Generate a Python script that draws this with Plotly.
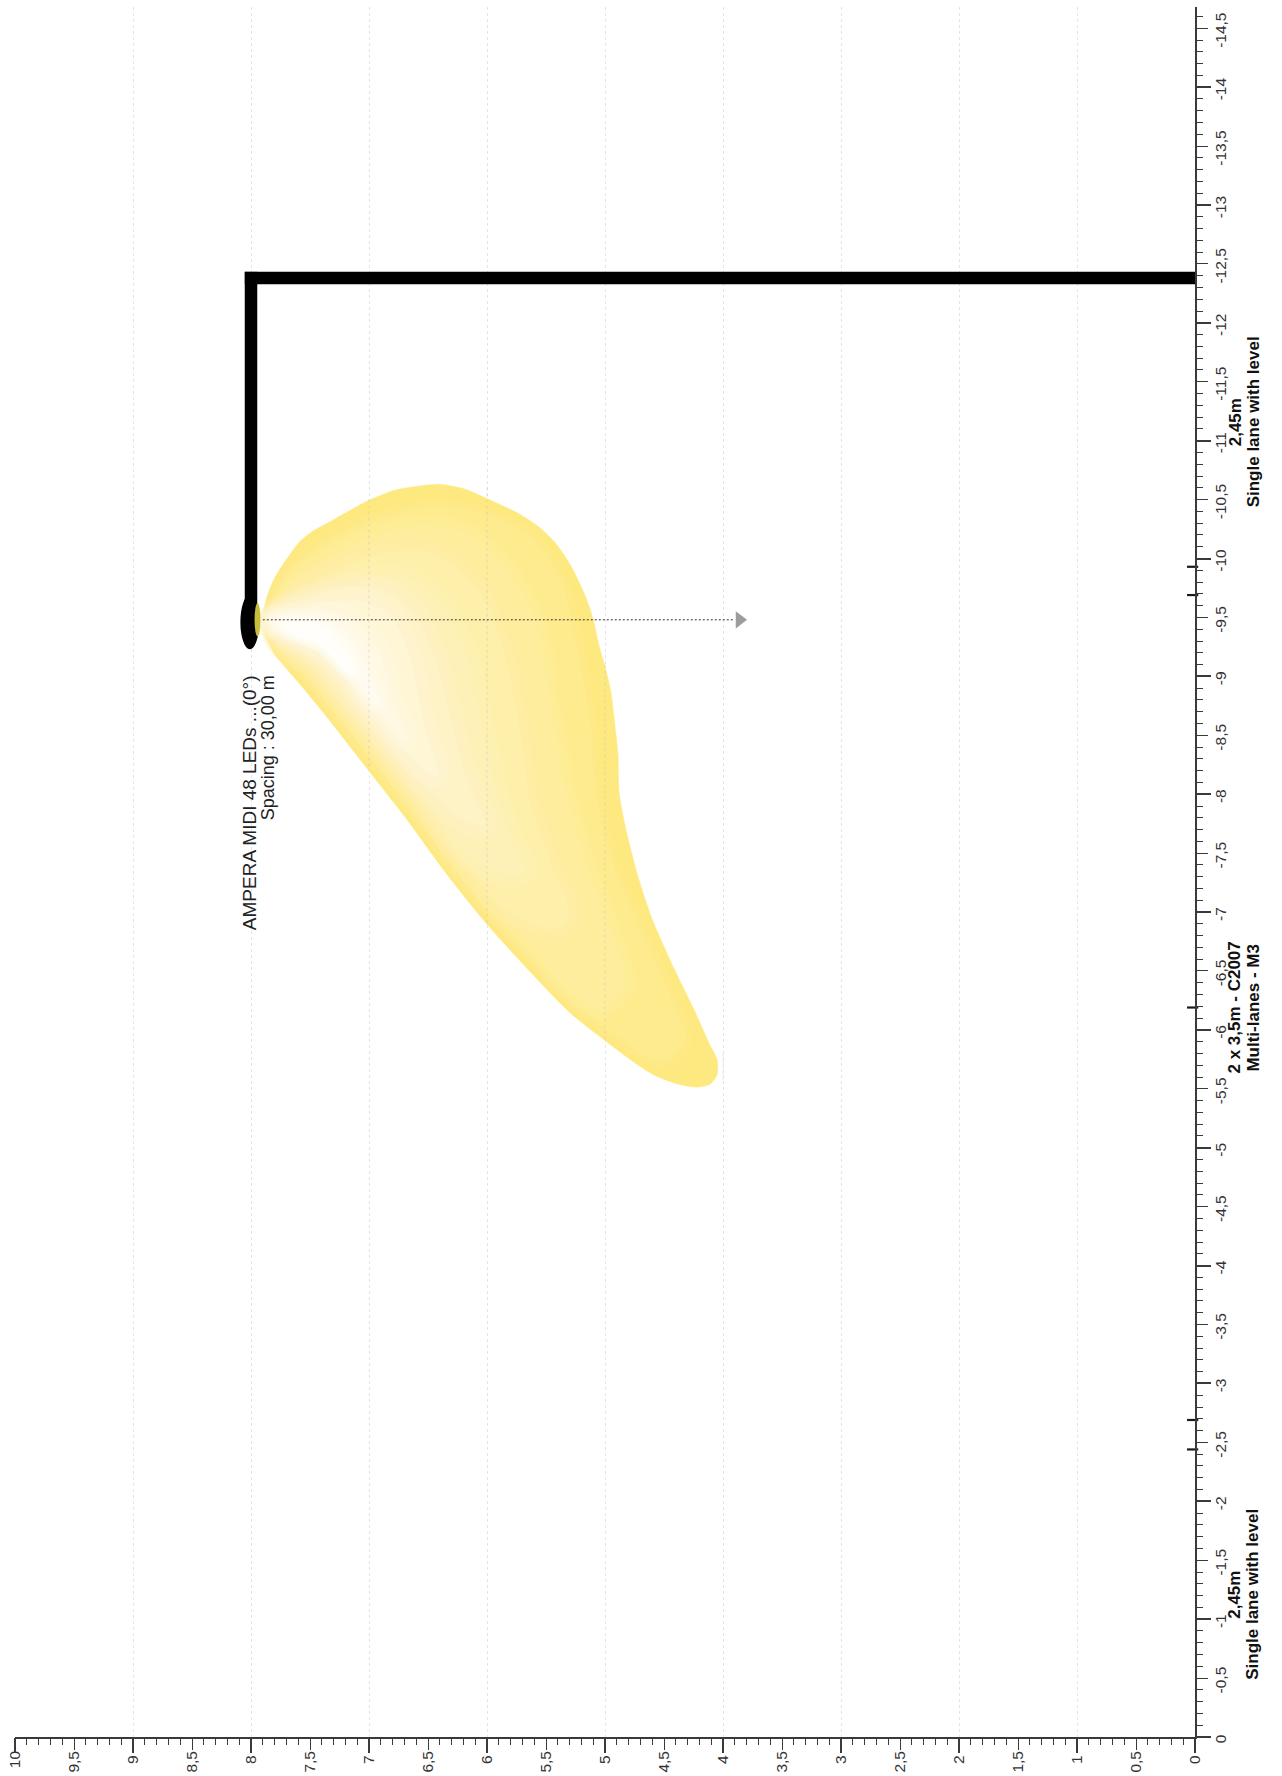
import plotly.graph_objects as go

# Axis ticks
X_TICKS = [i * 0.5 for i in range(0, 21)]
X_LABELS = ["0\u00a0", "0,5", "1\u00a0", "1,5", "2\u00a0", "2,5", "3\u00a0", "3,5", "4\u00a0", "4,5", "5\u00a0",
            "5,5", "6\u00a0", "6,5", "7\u00a0", "7,5", "8\u00a0", "8,5", "9\u00a0", "9,5", "10"]
Y_TICKS = [-i * 0.5 for i in range(0, 30)]
Y_LABELS = ["0", "-0,5", "-1", "-1,5", "-2", "-2,5", "-3", "-3,5", "-4", "-4,5", "-5", "-5,5", "-6", "-6,5",
            "-7", "-7,5", "-8", "-8,5", "-9", "-9,5", "-10", "-10,5", "-11", "-11,5", "-12", "-12,5", "-13",
            "-13,5", "-14", "-14,5"]
X_MAJOR = [0, 1, 2, 3, 4, 5, 6, 7, 8, 9, 10]
Y_MAJOR = [0, -1, -2, -3, -4, -5, -6, -7, -8, -9, -10, -11, -12, -13, -14]
GRID_OVER_BEAM_X = [7, 7, None, 6, 6, None, 5, 5, None, 4, 4]
GRID_OVER_BEAM_Y = [-10.5, -8.2, None, -10.6, -6.9, None, -9.1, -5.9, None, -5.8, -5.55]

# Pole and arm
ARM_X = [0, 8, 8]
ARM_Y = [-12.38, -12.38, -9.6]
# Carriageway separators on the right axis
LANE_MARK_Y = [-2.44, -2.69, -6.19, -9.69, -9.93]
LANE_MARK_X = [0.02, 0.02, 0.02, 0.02, 0.02]
# Aiming line
AIM_X = [7.9, 3.906]
AIM_Y = [-9.48, -9.48]
ARROW_X = [3.86]
ARROW_Y = [-9.48]

# Light footprint: outer outline and nested contours of rising brightness
OUTLINE_X = [7.90, 7.87, 7.80, 7.71, 7.59, 7.48, 7.30, 7.01, 6.78, 6.54, 6.40, 6.19, 5.96, 5.73, 5.55, 5.41, 5.29,
             5.17, 5.10, 5.05, 5.00, 4.95, 4.92, 4.89, 4.88, 4.82, 4.72, 4.60, 4.41, 4.24, 4.11, 4.05, 4.05, 4.11,
             4.22, 4.38, 4.59, 4.76, 5.00, 5.29, 5.64, 6.02, 6.34, 6.72, 7.01, 7.36, 7.59, 7.80, 7.87]
OUTLINE_Y = [-9.485, -9.656, -9.835, -9.977, -10.14, -10.23, -10.33, -10.49, -10.58, -10.62, -10.63, -10.59, -10.49,
             -10.38, -10.26, -10.12, -9.94, -9.69, -9.485, -9.26, -9.085, -8.87, -8.62, -8.335, -8.01, -7.69, -7.30,
             -6.94, -6.51, -6.16, -5.87, -5.75, -5.62, -5.54, -5.515, -5.54, -5.62, -5.73, -5.91, -6.14, -6.50,
             -6.92, -7.32, -7.84, -8.21, -8.66, -8.94, -9.19, -9.33]
L1_X = [7.82, 7.67, 7.42, 6.99, 6.48, 6.06, 5.64, 5.38, 5.25, 5.13, 5.07, 4.92, 4.70, 4.49, 4.32, 4.53, 4.95, 5.24,
        5.58, 5.97, 6.29, 6.67, 6.96, 7.31, 7.55, 7.79]
L1_Y = [-9.56, -9.90, -10.11, -10.32, -10.45, -10.39, -10.20, -9.82, -9.31, -8.63, -7.95, -7.36, -6.85, -6.38, -5.91,
        -5.73, -5.98, -6.21, -6.58, -7.00, -7.39, -7.92, -8.29, -8.73, -9.04, -9.32]
L2_X = [7.80, 7.63, 7.37, 6.95, 6.53, 6.14, 5.85, 5.59, 5.47, 5.34, 5.17, 4.96, 4.83, 5.04, 5.38, 5.53, 5.92, 6.24,
        6.62, 6.91, 7.26, 7.50, 7.78]
L2_Y = [-9.52, -9.82, -9.99, -10.20, -10.28, -10.20, -9.94, -9.48, -8.80, -8.04, -7.44, -6.85, -6.38, -6.17, -6.40,
        -6.59, -7.02, -7.41, -7.93, -8.31, -8.75, -9.04, -9.30]
L3_X = [7.82, 7.63, 7.37, 6.95, 6.57, 6.27, 6.02, 5.85, 5.72, 5.64, 5.47, 5.30, 5.45, 5.88, 6.20, 6.58, 6.87, 7.23,
        7.47, 7.78]
L3_Y = [-9.49, -9.71, -9.86, -10.03, -10.07, -9.94, -9.65, -9.18, -8.54, -7.95, -7.44, -6.98, -6.85, -7.05, -7.44,
        -7.97, -8.34, -8.78, -9.07, -9.35]
L4_X = [7.84, 7.58, 7.33, 6.99, 6.65, 6.40, 6.19, 6.06, 5.93, 5.81, 5.68, 5.82, 6.16, 6.54, 6.83, 7.19, 7.42, 7.80]
L4_Y = [-9.48, -9.65, -9.73, -9.83, -9.82, -9.60, -9.22, -8.63, -8.04, -7.65, -7.36, -7.31, -7.47, -7.99, -8.37,
        -8.81, -9.10, -9.39]
L5_X = [7.84, 7.54, 7.20, 6.86, 6.61, 6.44, 6.31, 6.19, 6.02, 6.16, 6.50, 6.80, 7.15, 7.39, 7.80]
L5_Y = [-9.48, -9.65, -9.75, -9.73, -9.52, -9.14, -8.63, -8.16, -7.74, -7.76, -8.04, -8.40, -8.84, -9.13, -9.42]
L6_X = [7.84, 7.50, 7.12, 6.82, 6.65, 6.55, 6.42, 6.53, 6.75, 7.11, 7.35, 7.80]
L6_Y = [-9.48, -9.60, -9.65, -9.52, -9.14, -8.63, -8.16, -8.20, -8.43, -8.88, -9.16, -9.43]
L7_X = [7.82, 7.46, 7.14, 6.92, 6.81, 6.69, 6.78, 7.07, 7.31, 7.79]
L7_Y = [-9.48, -9.55, -9.49, -9.22, -8.84, -8.46, -8.52, -8.91, -9.20, -9.43]
L8_X = [7.79, 7.42, 7.20, 7.03, 6.92, 7.01, 7.26, 7.77]
L8_Y = [-9.47, -9.49, -9.37, -9.08, -8.76, -8.84, -9.23, -9.43]
L9_X = [7.71, 7.42, 7.25, 7.12, 7.20, 7.42, 7.69]
L9_Y = [-9.46, -9.43, -9.27, -9.01, -9.05, -9.27, -9.38]
BEAM_COLORS = [(254, 233, 128), (254, 235, 142), (254, 237, 156), (254, 239, 170), (254, 241, 184), (254, 243, 198),
               (254, 246, 212), (255, 248, 226), (255, 251, 240), (255, 254, 250)]
FEATHER_WIDTHS = [0, 14, 24, 26, 26, 26, 26, 24, 20, 14]

FONT = "Liberation Sans"
AXIS_COLOR = "#3a3a3a"
LABEL_COLOR = "#333333"
RANGE_X = [10, 0]
RANGE_Y = [0, -14.68]

fig = go.Figure()

contours = [(OUTLINE_X, OUTLINE_Y), (L1_X, L1_Y), (L2_X, L2_Y), (L3_X, L3_Y), (L4_X, L4_Y), (L5_X, L5_Y),
            (L6_X, L6_Y), (L7_X, L7_Y), (L8_X, L8_Y), (L9_X, L9_Y)]
for (cx, cy), rgb, feather in zip(contours, BEAM_COLORS, FEATHER_WIDTHS):
    solid = "rgb(%d,%d,%d)" % rgb
    px, py = cx + cx[:1], cy + cy[:1]
    for share in (1.0, 0.66, 0.33):
        if feather:
            fig.add_trace(go.Scatter(x=px, y=py, mode="lines", hoverinfo="skip",
                                     line=dict(color="rgba(%d,%d,%d,0.3)" % rgb, width=feather * share,
                                               shape="spline", smoothing=0.7)))
    fig.add_trace(go.Scatter(x=px, y=py, mode="lines", fill="toself", fillcolor=solid, hoverinfo="skip",
                             line=dict(color=solid, width=0.5, shape="spline", smoothing=0.7)))

fig.add_trace(go.Scatter(x=GRID_OVER_BEAM_X, y=GRID_OVER_BEAM_Y, mode="lines",
                         line=dict(color="rgba(190,190,190,0.28)", width=1.5, dash="dot"), hoverinfo="skip"))
fig.add_trace(go.Scatter(x=AIM_X, y=AIM_Y, mode="lines", line=dict(color="#333333", width=1, dash="2px,2px"),
                         hoverinfo="skip"))
fig.add_trace(go.Scatter(x=ARROW_X, y=ARROW_Y, mode="markers", hoverinfo="skip",
                         marker=dict(symbol="triangle-right", size=15, color="#9c9c9c", line=dict(width=0))))
fig.add_trace(go.Scatter(x=ARM_X, y=ARM_Y, mode="lines+markers", line=dict(color="black", width=12.5),
                         marker=dict(symbol="square", size=[0, 12.5, 0], color="black", line=dict(width=0)),
                         hoverinfo="skip"))
fig.add_trace(go.Scatter(x=LANE_MARK_X, y=LANE_MARK_Y, xaxis="x2", yaxis="y2", mode="markers", cliponaxis=False,
                         marker=dict(symbol="line-ew", size=8, line=dict(color="#1a1a1a", width=2.2)),
                         hoverinfo="skip"))

# Luminaire head
fig.add_shape(type="circle", xref="x", yref="y", x0=8.09, x1=7.93, y0=-9.69, y1=-9.23,
              fillcolor="black", line=dict(width=0))
fig.add_shape(type="circle", xref="x", yref="y", x0=7.97, x1=7.92, y0=-9.62, y1=-9.34,
              fillcolor="#C8BC3C", line=dict(width=0))

common_text = dict(showarrow=False, textangle=-90, align="center", xanchor="center", yanchor="middle")
label = lambda text, xp, y, bold=False: dict(
    text=f"<b>{text}</b>" if bold else text, xref="paper", yref="y", x=xp, y=y,
    font=dict(family=FONT, size=17, color="#111111"), **common_text)

fig.update_layout(
    width=1282, height=1776, showlegend=False, paper_bgcolor="white", plot_bgcolor="white",
    margin=dict(l=15, r=87, t=7, b=38.5, pad=0, autoexpand=False),
    font=dict(family=FONT, size=15.5, color=LABEL_COLOR),
    xaxis=dict(range=RANGE_X, tickmode="array", tickvals=X_TICKS, ticktext=X_LABELS, tickangle=-90,
               ticks="outside", ticklen=11, tickwidth=1.4, tickcolor=AXIS_COLOR, showline=True, linewidth=1.6,
               linecolor=AXIS_COLOR, showgrid=False, zeroline=False, anchor="y", side="bottom",
               ticklabelstandoff=-5, automargin=False,
               minor=dict(ticks="outside", ticklen=6, tickwidth=1.2, tickcolor=AXIS_COLOR, dtick=0.1, tick0=0,
                          showgrid=False)),
    yaxis=dict(range=RANGE_Y, tickmode="array", tickvals=Y_TICKS,
               ticktext=[t + "\u00a0\u00a0" for t in Y_LABELS], tickangle=-90,
               ticks="outside", ticklen=11, tickwidth=1.4, tickcolor=AXIS_COLOR, showline=True, linewidth=1.6,
               linecolor=AXIS_COLOR, showgrid=False, zeroline=False, anchor="x", side="right",
               ticklabelstandoff=0, automargin=False,
               minor=dict(ticks="outside", ticklen=6, tickwidth=1.2, tickcolor=AXIS_COLOR, dtick=0.1, tick0=0,
                          showgrid=False)),
    xaxis2=dict(range=RANGE_X, overlaying="x", anchor="y2", side="bottom", tickmode="array", tickvals=X_MAJOR,
                ticks="outside", ticklen=15, tickwidth=1.6, tickcolor=AXIS_COLOR, showticklabels=False,
                showgrid=True, gridcolor="#e4e4e4", griddash="dot", gridwidth=1.4, zeroline=False, showline=False,
                automargin=False),
    yaxis2=dict(range=RANGE_Y, overlaying="y", anchor="x2", side="right", tickmode="array", tickvals=Y_MAJOR,
                ticks="outside", ticklen=15, tickwidth=1.6, tickcolor=AXIS_COLOR, showticklabels=False,
                showgrid=False, zeroline=False, showline=False, automargin=False),
    annotations=[
        dict(text="AMPERA MIDI 48 LEDs ...(0°)", xref="x", yref="y", x=8.01, y=-9.03, showarrow=False, textangle=-90,
             xanchor="center", yanchor="top", font=dict(family=FONT, size=19, color="#222222")),
        dict(text="Spacing : 30,00 m", xref="x", yref="y", x=7.856, y=-9.03, showarrow=False, textangle=-90,
             xanchor="center", yanchor="top", font=dict(family=FONT, size=18, color="#222222")),
        label("2,45m", 1.0339, -1.207, True), label("Single lane with level", 1.0492, -1.207, True),
        label("2 x 3,5m - C2007", 1.0339, -6.19, True), label("Multi-lanes - M3", 1.0492, -6.19, True),
        label("2,45m", 1.0339, -11.156, True), label("Single lane with level", 1.0492, -11.156, True),
    ],
)

fig.write_html("out.html", post_script="document.body.style.margin='0';document.body.style.overflow='hidden';",
               config=dict(displayModeBar=False))
